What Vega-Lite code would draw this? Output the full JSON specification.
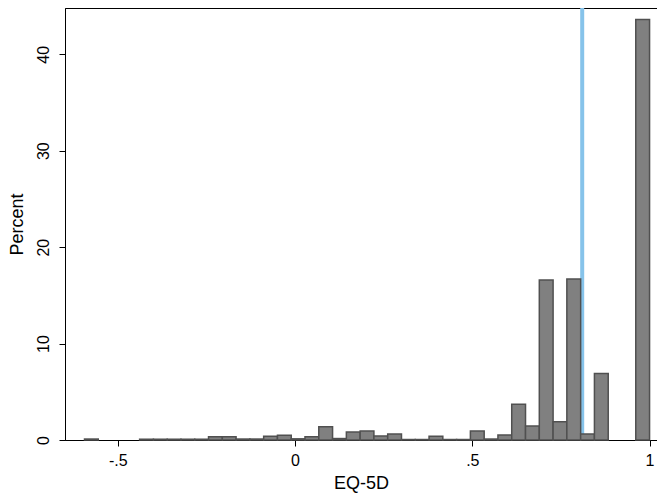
{
  "$schema": "https://vega.github.io/schema/vega-lite/v6.json",
  "width": 592,
  "height": 432,
  "autosize": "none",
  "padding": {"left": 65, "top": 8, "right": 0, "bottom": 54},
  "background": "white",
  "config": {
    "font": "Liberation Sans",
    "view": {"stroke": "black", "strokeWidth": 1},
    "axis": {
      "grid": false,
      "domainColor": "black",
      "tickColor": "black",
      "labelColor": "black",
      "titleColor": "black",
      "titleFontWeight": "normal",
      "tickSize": 6,
      "labelFontSize": 16,
      "titleFontSize": 18
    }
  },
  "layer": [
    {
      "data": {"values": [{"v": 0.81}]},
      "mark": {"type": "rule", "color": "#86c3ea", "strokeWidth": 4},
      "encoding": {
        "x": {"field": "v", "type": "quantitative"}
      }
    },
    {
      "data": {
        "values": [
          {"b0": -0.5940, "b1": -0.5551, "pct": 0.1},
          {"b0": -0.4385, "b1": -0.3996, "pct": 0.08},
          {"b0": -0.3996, "b1": -0.3607, "pct": 0.08},
          {"b0": -0.3607, "b1": -0.3219, "pct": 0.08},
          {"b0": -0.3219, "b1": -0.2830, "pct": 0.08},
          {"b0": -0.2830, "b1": -0.2441, "pct": 0.08},
          {"b0": -0.2441, "b1": -0.2052, "pct": 0.35},
          {"b0": -0.2052, "b1": -0.1664, "pct": 0.35},
          {"b0": -0.1664, "b1": -0.1275, "pct": 0.1},
          {"b0": -0.1275, "b1": -0.0886, "pct": 0.1},
          {"b0": -0.0886, "b1": -0.0497, "pct": 0.4},
          {"b0": -0.0497, "b1": -0.0108, "pct": 0.5},
          {"b0": -0.0108, "b1": 0.0280, "pct": 0.12},
          {"b0": 0.0280, "b1": 0.0669, "pct": 0.35},
          {"b0": 0.0669, "b1": 0.1058, "pct": 1.38},
          {"b0": 0.1058, "b1": 0.1447, "pct": 0.15},
          {"b0": 0.1447, "b1": 0.1836, "pct": 0.83},
          {"b0": 0.1836, "b1": 0.2224, "pct": 0.93},
          {"b0": 0.2224, "b1": 0.2613, "pct": 0.42},
          {"b0": 0.2613, "b1": 0.3002, "pct": 0.62},
          {"b0": 0.3002, "b1": 0.3391, "pct": 0.05},
          {"b0": 0.3391, "b1": 0.3780, "pct": 0.05},
          {"b0": 0.3780, "b1": 0.4168, "pct": 0.4},
          {"b0": 0.4168, "b1": 0.4557, "pct": 0.05},
          {"b0": 0.4557, "b1": 0.4946, "pct": 0.05},
          {"b0": 0.4946, "b1": 0.5335, "pct": 0.93},
          {"b0": 0.5335, "b1": 0.5723, "pct": 0.1},
          {"b0": 0.5723, "b1": 0.6112, "pct": 0.52},
          {"b0": 0.6112, "b1": 0.6501, "pct": 3.7},
          {"b0": 0.6501, "b1": 0.6890, "pct": 1.45},
          {"b0": 0.6890, "b1": 0.7279, "pct": 16.6},
          {"b0": 0.7279, "b1": 0.7667, "pct": 1.9},
          {"b0": 0.7667, "b1": 0.8056, "pct": 16.7},
          {"b0": 0.8056, "b1": 0.8445, "pct": 0.62},
          {"b0": 0.8445, "b1": 0.8834, "pct": 6.9},
          {"b0": 0.9611, "b1": 1.0000, "pct": 43.6}
        ]
      },
      "mark": {"type": "bar", "fill": "#808080", "stroke": "#505050", "strokeWidth": 1.5},
      "encoding": {
        "x": {
          "field": "b0",
          "type": "quantitative",
          "scale": {"domain": [-0.649, 1.021], "nice": false, "zero": false},
          "axis": {
            "values": [-0.5, 0, 0.5, 1],
            "labelExpr": "datum.value == 0.5 ? '.5' : (datum.value == -0.5 ? '-.5' : (datum.value == 1 ? '1' : '0'))",
            "title": "EQ-5D",
            "labelPadding": 6,
            "titlePadding": 6
          }
        },
        "x2": {"field": "b1"},
        "y": {
          "field": "pct",
          "type": "quantitative",
          "scale": {"domain": [0, 44.8], "nice": false},
          "axis": {
            "values": [0, 10, 20, 30, 40],
            "labelAngle": -90,
            "labelAlign": "center",
            "labelBaseline": "bottom",
            "labelPadding": 8,
            "title": "Percent",
            "titlePadding": 9
          }
        },
        "y2": {"datum": 0}
      }
    }
  ]
}
